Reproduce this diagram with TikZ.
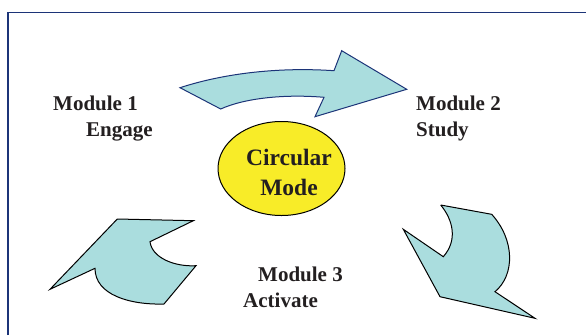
\documentclass[tikz,border=0pt]{standalone}
\usepackage{fontspec}
\setmainfont{Liberation Serif}
\usetikzlibrary{shapes.geometric}
\definecolor{navy}{RGB}{28,52,120}
\definecolor{cyanfill}{RGB}{170,221,222}
\definecolor{ellyellow}{RGB}{248,236,40}
\definecolor{txt}{RGB}{35,31,32}
\tikzset{
  lbl/.style={font=\bfseries\fontsize{21}{26}\selectfont, text=txt, align=left, inner sep=0pt},
  arrowshape/.style={fill=cyanfill, draw=black, line width=1pt, line join=miter},
}
\begin{document}
\begin{tikzpicture}[x=1pt,y=-1pt]
\useasboundingbox (0,0) rectangle (586,335);
% frame
\draw[navy, line width=1.6pt] (8,335) -- (8,12.5) -- (586,12.5);
% top arrow
\draw[arrowshape, draw=navy] (180,87.7) .. controls (225,73) and (280,67) .. (334,70.7)
  -- (341.7,50.7) -- (406.7,89.3) -- (315,116.7) -- (324,97.3)
  .. controls (285,94) and (245,98) .. (220.7,109) -- cycle;
% right arrow
\draw[arrowshape] (440.7,205) -- (491.7,214.3)
  .. controls (515,240) and (515,275) .. (495,291.7)
  -- (535,318.3) -- (440,296.7) -- (403.3,229.3) -- (443.3,256.7)
  .. controls (458,240) and (453,220) .. (440.7,205);
% left arrow
\draw[arrowshape] (117.3,219) -- (193.3,220.7) -- (150,241.7)
  .. controls (152,258) and (175,267) .. (196,265.7)
  -- (164,304)
  .. controls (130,305) and (95,295) .. (95,268.3)
  -- (50,289.3) -- cycle;
% ellipse
\node[ellipse, draw=black, line width=1pt, fill=ellyellow, minimum width=127pt, minimum height=94pt] (mode) at (281.5,168.5) {};
\node[font=\bfseries\fontsize{23.5}{30}\selectfont, text=txt, align=center, inner sep=0pt] (modetext) at (289,172) {Circular\\Mode};
% labels
\node[lbl, anchor=north west] (m1) at (53,96) {Module 1\\\hspace*{33pt}Engage};
\node[lbl, anchor=north west] (m2) at (416,96) {Module 2\\Study};
\node[lbl, anchor=north west] (m3) at (243,267) {\hspace*{15pt}Module 3\\Activate};
\end{tikzpicture}
\end{document}
